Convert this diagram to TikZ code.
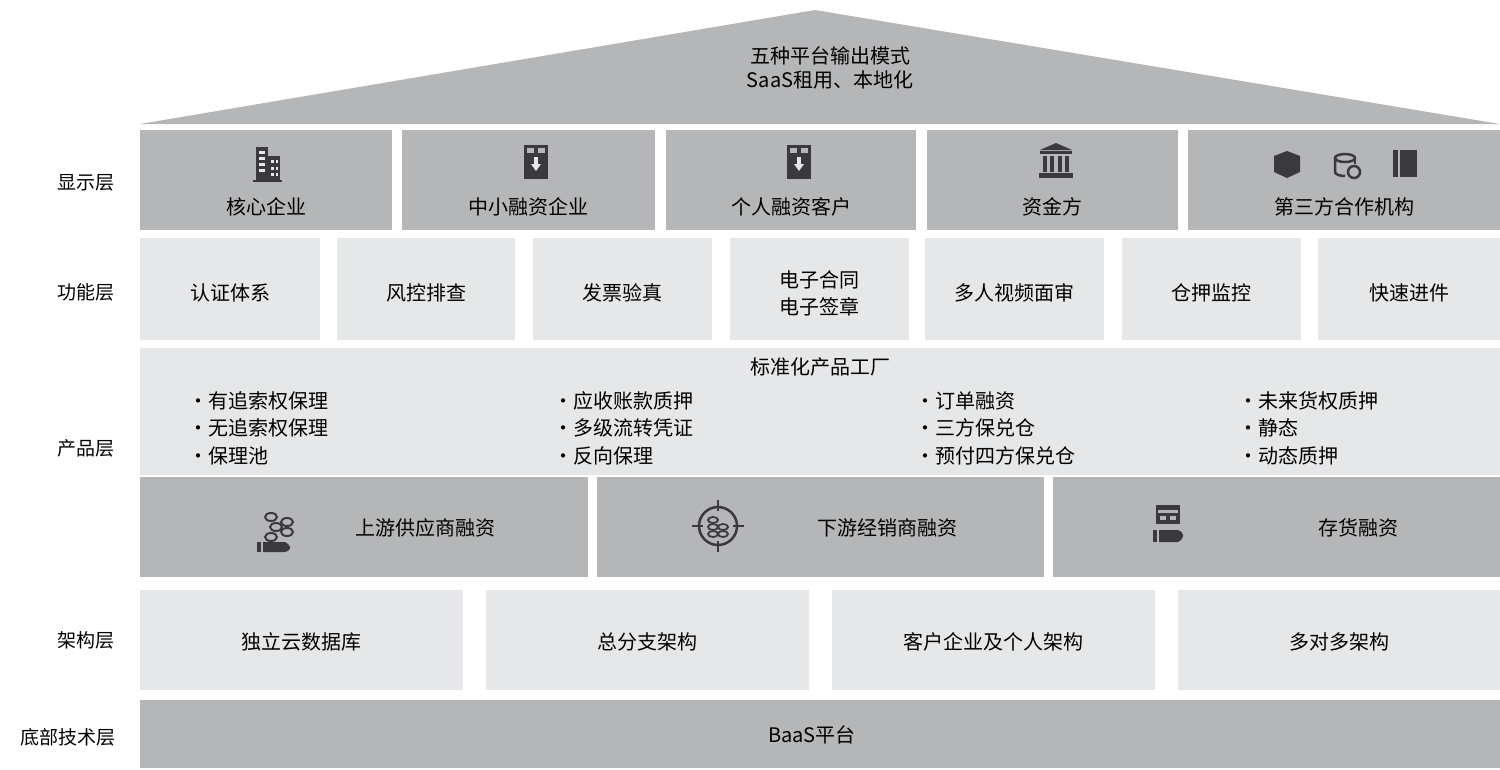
\documentclass[tikz,border=0pt]{standalone}
\usepackage{fontspec}
\setmainfont{Noto Sans CJK SC}
\begin{document}
\begin{tikzpicture}[x=1pt,y=-1pt,
  dk/.style={fill=dkgray,draw=none},
  lt/.style={fill=ltgray,draw=none},
  tx/.style={font=\fontsize{20}{24}\selectfont,text=black,align=center},
  lab/.style={font=\fontsize{19}{22}\selectfont,text=black},
  ic/.style={fill=icon,draw=none}]
\definecolor{dkgray}{HTML}{B5B6B8}
\definecolor{ltgray}{HTML}{E6E7E8}
\definecolor{icon}{HTML}{3A3A3C}
\useasboundingbox (0,0) rectangle (1500,769);
\fill[white] (0,0) rectangle (1500,769);
% roof
\fill[dkgray] (140,124) -- (815,10) -- (1500,124) -- cycle;
\node[tx] (roof) at (830,68) {五种平台输出模式\\SaaS租用、本地化};
% display layer
\foreach \a/\b/\t/\n in {140/392/核心企业/d1,402/655/中小融资企业/d2,666/916/个人融资客户/d3,927/1178/资金方/d4,1188/1500/第三方合作机构/d5}{
  \fill[dkgray] (\a,130) rectangle (\b,230);
  \node[tx] (\n) at ({(\a+\b)/2},207) {\t};
}
% icons display
\fill[icon] (256,147) rectangle (268,180); \fill[icon] (268,156) rectangle (280,180); \fill[icon] (253,180) rectangle (282,182);
\foreach \yy in {151,157,163,169}{\fill[ltgray] (259,\yy) rectangle (265,\yy+3);}
\foreach \yy in {160,167,173}{\fill[ltgray] (271,\yy) rectangle (274,\yy+3);\fill[ltgray] (276,\yy) rectangle (278,\yy+3);}
\foreach \cx in {536,799}{
  \fill[icon] (\cx-12,145) rectangle (\cx+12,179);
  \fill[dkgray] (\cx-9,148) rectangle (\cx-2,153); \fill[dkgray] (\cx+2,148) rectangle (\cx+9,153);
  \fill[ltgray] (\cx-2,157) rectangle (\cx+2,164); \fill[ltgray] (\cx-5,164) -- (\cx+5,164) -- (\cx,171) -- cycle;
}
\fill[icon] (1040,150) -- (1056,143) -- (1072,150) -- cycle; \fill[icon] (1040,151) rectangle (1072,154);
\foreach \xx in {1043,1050,1058,1065}{\fill[icon] (\xx,156) rectangle (\xx+4,172);}
\fill[icon] (1039,173) rectangle (1073,178);
\fill[icon] (1274,156) -- (1287,151) -- (1300,156) -- (1300,172) -- (1287,178) -- (1274,172) -- cycle;
\draw[icon,line width=2.5] (1345,158) ellipse (10 and 4); \draw[icon,line width=2.5] (1335,158) -- (1335,172) arc (180:90:10 and 4);
\draw[icon,line width=2.5] (1355,158) -- (1355,164); \draw[icon,line width=2.5] (1354,172) circle (6);
\fill[icon] (1393,150) rectangle (1417,177); \fill[dkgray] (1398,150) rectangle (1400,177);
% function layer
\foreach \a/\b/\n in {140/320/f1,337/515/f2,533/712/f3,730/909/f4,925/1104/f5,1122/1301/f6,1318/1500/f7}{
  \fill[ltgray] (\a,238) rectangle (\b,340);
  \coordinate (\n) at ({(\a+\b)/2},293);
}
\node[tx] at (f1) {认证体系};
\node[tx] at (f2) {风控排查};
\node[tx] at (f3) {发票验真};
\node[tx,font=\fontsize{20}{27}\selectfont] at (f4) {电子合同\\电子签章};
\node[tx] at (f5) {多人视频面审};
\node[tx] at (f6) {仓押监控};
\node[tx] at (f7) {快速进件};
% product layer
\fill[ltgray] (140,348) rectangle (1500,475);
\node[tx] (pt) at (820,367) {标准化产品工厂};
\foreach \x/\p/\q/\r in {185/有追索权保理/无追索权保理/保理池,550/应收账款质押/多级流转凭证/反向保理,912/订单融资/三方保兑仓/预付四方保兑仓,1235/未来货权质押/静态/动态质押/仓单质押}{
  \node[tx,anchor=west] at (\x,401) {·\p};
  \node[tx,anchor=west] at (\x,428) {·\q};
  \node[tx,anchor=west] at (\x,456) {·\r};
}
\foreach \a/\b/\t/\tx/\n in {140/588/上游供应商融资/425/p1,597/1044/下游经销商融资/887/p2,1053/1500/存货融资/1358/p3}{
  \fill[dkgray] (\a,477) rectangle (\b,577);
  \node[tx] (\n) at (\tx,528) {\t};
}
% coins + hand icons
\foreach \cx/\cy in {271/517,276/527,271/537}{\draw[icon,line width=2] (\cx,\cy) ellipse (6 and 4);}
\foreach \cx/\cy in {287/522,287/532}{\draw[icon,line width=2] (\cx,\cy) ellipse (6 and 4);}
\fill[icon] (257,542) rectangle (261,552);
\fill[icon] (263,542) -- (285,542) .. controls (292,546) and (292,550) .. (285,552) -- (263,552) -- cycle;
\draw[icon,line width=2.5] (718,526) circle (19);
\draw[icon,line width=2.5] (718,500) -- (718,511) (718,541) -- (718,552) (692,526) -- (703,526) (733,526) -- (744,526);
\foreach \cx/\cy in {713/520,713/527,713/534,723/527,723/534}{\draw[icon,line width=1.8] (\cx,\cy) ellipse (5 and 3);}
\fill[icon] (1156,505) rectangle (1180,524); \fill[dkgray] (1158,510) rectangle (1178,513);
\fill[dkgray] (1160,516) rectangle (1166,520); \fill[dkgray] (1170,516) rectangle (1176,520);
\fill[icon] (1153,530) rectangle (1157,542);
\fill[icon] (1159,530) -- (1178,530) .. controls (1185,533) and (1185,538) .. (1178,542) -- (1159,542) -- cycle;
% architecture
\foreach \a/\b/\t/\n in {140/463/独立云数据库/a1,486/809/总分支架构/a2,832/1155/客户企业及个人架构/a3,1178/1500/多对多架构/a4}{
  \fill[ltgray] (\a,590) rectangle (\b,690);
  \node[tx] (\n) at ({(\a+\b)/2},642) {\t};
}
% bottom
\fill[dkgray] (140,700) rectangle (1500,768);
\node[tx] (baas) at (812,735) {BaaS平台};
% left labels
\node[lab] (l1) at (86,183) {显示层};
\node[lab] (l2) at (86,292) {功能层};
\node[lab] (l3) at (86,448) {产品层};
\node[lab] (l4) at (86,640) {架构层};
\node[lab] (l5) at (68,737) {底部技术层};
\end{tikzpicture}
\end{document}
